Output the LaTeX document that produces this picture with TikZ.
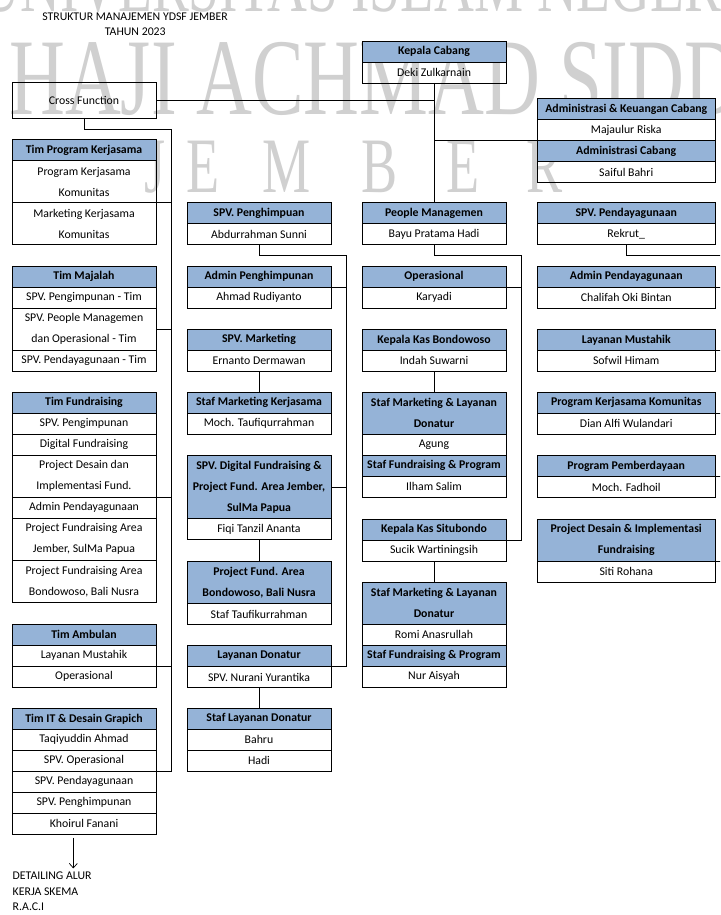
\documentclass[tikz,border=0pt]{standalone}
\usepackage{fontspec}
\setmainfont{Carlito}
\newfontfamily\wmfont{Liberation Serif}
\usetikzlibrary{arrows.meta,calc}
\definecolor{hdrblue}{RGB}{149,179,215}
\definecolor{wmgray}{RGB}{208,208,208}
\begin{document}
\begin{tikzpicture}[x=1pt,y=-1pt,
  cell/.style={draw=black, line width=0.9pt, minimum height=21pt, inner sep=0pt, outer sep=0pt,
    anchor=north west, align=center, font=\fontsize{11.8}{21}\selectfont},
  hd/.style={cell, fill=hdrblue, font=\fontsize{11.8}{21}\selectfont\bfseries},
  two/.style={minimum height=42pt},
  three/.style={minimum height=63pt},
  wa/.style={minimum width=144pt},
  wb/.style={minimum width=178.5pt},
  conn/.style={draw=black, line width=0.9pt},
  txt/.style={inner sep=0pt, font=\fontsize{11.8}{14}\selectfont},
  wm/.style={inner sep=0pt, text=wmgray},
]
\useasboundingbox (0,0) rectangle (720,915);
\fill[white] (0,0) rectangle (720,915);
\clip (0,0) rectangle (720,915);

% watermark
\node[wm, anchor=base, font=\wmfont\fontsize{80}{80}\selectfont] (wm1) at (360,12) {\scalebox{0.69}[1]{UNIVERSITAS ISLAM NEGERI}};
\node[wm, anchor=base west, font=\wmfont\fontsize{109}{109}\selectfont] (wm2) at (9,115) {\scalebox{0.71}[1]{HAJI ACHMAD SIDDIQ}};
\foreach \l/\x [count=\i] in {J/155,E/203,M/287,B/380,E/463,R/545}
  \node[wm, anchor=base, font=\wmfont\fontsize{78.5}{78.5}\selectfont] (wm3\i) at (\x,192) {\scalebox{0.69}[1]{\l}};

% title
\node[txt, anchor=base] (title1) at (135,20.7) {STRUKTUR MANAJEMEN YDSF JEMBER};
\node[txt, anchor=base] (title2) at (135.3,36) {TAHUN 2023};

% ---------- column 1
\node[cell, wa, minimum height=36pt] (cf) at (12,82) {Cross Function};

\node[hd, wa] (tpk0) at (12,139.5) {Tim Program Kerjasama};
\node[cell, wa, two] (tpk1) at (tpk0.south west) {Program Kerjasama\\Komunitas};
\node[cell, wa, two] (tpk2) at (tpk1.south west) {Marketing Kerjasama\\Komunitas};

\node[hd, wa] (tm0) at (12,266) {Tim Majalah};
\node[cell, wa] (tm1) at (tm0.south west) {SPV. Pengimpunan - Tim};
\node[cell, wa, two] (tm2) at (tm1.south west) {SPV. People Managemen\\dan Operasional - Tim};
\node[cell, wa] (tm3) at (tm2.south west) {SPV. Pendayagunaan - Tim};

\node[hd, wa] (tf0) at (12,392.3) {Tim Fundraising};
\node[cell, wa] (tf1) at (tf0.south west) {SPV. Pengimpunan};
\node[cell, wa] (tf2) at (tf1.south west) {Digital Fundraising};
\node[cell, wa, two] (tf3) at (tf2.south west) {Project Desain dan\\Implementasi Fund.};
\node[cell, wa] (tf4) at (tf3.south west) {Admin Pendayagunaan};
\node[cell, wa, two] (tf5) at (tf4.south west) {Project Fundraising Area\\Jember, SulMa Papua};
\node[cell, wa, two] (tf6) at (tf5.south west) {Project Fundraising Area\\Bondowoso, Bali Nusra};

\node[hd, wa] (ta0) at (12,624.3) {Tim Ambulan};
\node[cell, wa] (ta1) at (ta0.south west) {Layanan Mustahik};
\node[cell, wa] (ta2) at (ta1.south west) {Operasional};

\node[hd, wa] (tit0) at (12,708.3) {Tim IT \& Desain Grapich};
\node[cell, wa] (tit1) at (tit0.south west) {Taqiyuddin Ahmad};
\node[cell, wa] (tit2) at (tit1.south west) {SPV. Operasional};
\node[cell, wa] (tit3) at (tit2.south west) {SPV. Pendayagunaan};
\node[cell, wa] (tit4) at (tit3.south west) {SPV. Penghimpunan};
\node[cell, wa] (tit5) at (tit4.south west) {Khoirul Fanani};

% ---------- column 2
\node[hd, wa] (sph0) at (187,202.7) {SPV. Penghimpuan};
\node[cell, wa] (sph1) at (sph0.south west) {Abdurrahman Sunni};

\node[hd, wa] (aph0) at (187,266) {Admin Penghimpunan};
\node[cell, wa] (aph1) at (aph0.south west) {Ahmad Rudiyanto};

\node[hd, wa] (smk0) at (187,329.3) {SPV. Marketing};
\node[cell, wa] (smk1) at (smk0.south west) {Ernanto Dermawan};

\node[hd, wa] (smkk0) at (187,392.3) {Staf Marketing Kerjasama};
\node[cell, wa] (smkk1) at (smkk0.south west) {Moch. Taufiqurrahman};

\node[hd, wa, three] (sdf0) at (187,455.5) {SPV. Digital Fundraising \&\\Project Fund. Area Jember,\\SulMa Papua};
\node[cell, wa] (sdf1) at (sdf0.south west) {Fiqi Tanzil Ananta};

\node[hd, wa, two] (pfb0) at (187,561.5) {Project Fund. Area\\Bondowoso, Bali Nusra};
\node[cell, wa] (pfb1) at (pfb0.south west) {Staf Taufikurrahman};

\node[hd, wa] (ld0) at (187,645.5) {Layanan Donatur};
\node[cell, wa] (ld1) at (ld0.south west) {SPV. Nurani Yurantika};

\node[hd, wa] (sld0) at (187,708.3) {Staf Layanan Donatur};
\node[cell, wa] (sld1) at (sld0.south west) {Bahru};
\node[cell, wa] (sld2) at (sld1.south west) {Hadi};

% ---------- column 3
\node[hd, wa] (kc0) at (362,41) {Kepala Cabang};
\node[cell, wa] (kc1) at (kc0.south west) {Deki Zulkarnain};

\node[hd, wa] (pm0) at (362,202.7) {People Managemen};
\node[cell, wa] (pm1) at (pm0.south west) {Bayu Pratama Hadi};

\node[hd, wa] (op0) at (362,266) {Operasional};
\node[cell, wa] (op1) at (op0.south west) {Karyadi};

\node[hd, wa] (kkb0) at (362,329.3) {Kepala Kas Bondowoso};
\node[cell, wa] (kkb1) at (kkb0.south west) {Indah Suwarni};

\node[hd, wa, two] (sml0) at (362,392.3) {Staf Marketing \& Layanan\\Donatur};
\node[cell, wa] (sml1) at (sml0.south west) {Agung};
\node[hd, wa] (sml2) at (sml1.south west) {Staf Fundraising \& Program};
\node[cell, wa] (sml3) at (sml2.south west) {Ilham Salim};

\node[hd, wa] (kks0) at (362,519) {Kepala Kas Situbondo};
\node[cell, wa] (kks1) at (kks0.south west) {Sucik Wartiningsih};

\node[hd, wa, two] (smb0) at (362,582.3) {Staf Marketing \& Layanan\\Donatur};
\node[cell, wa] (smb1) at (smb0.south west) {Romi Anasrullah};
\node[hd, wa] (smb2) at (smb1.south west) {Staf Fundraising \& Program};
\node[cell, wa] (smb3) at (smb2.south west) {Nur Aisyah};

% ---------- column 4
\node[hd, wb] (adm0) at (537,98.7) {Administrasi \& Keuangan Cabang};
\node[cell, wb] (adm1) at (adm0.south west) {Majaulur Riska};
\node[hd, wb] (adm2) at (adm1.south west) {Administrasi Cabang};
\node[cell, wb] (adm3) at (adm2.south west) {Saiful Bahri};

\node[hd, wb] (spd0) at (537,202.7) {SPV. Pendayagunaan};
\node[cell, wb] (spd1) at (spd0.south west) {Rekrut\_};

\node[hd, wb] (apd0) at (537,266) {Admin Pendayagunaan};
\node[cell, wb] (apd1) at (apd0.south west) {Chalifah Oki Bintan};

\node[hd, wb] (lm0) at (537,329.3) {Layanan Mustahik};
\node[cell, wb] (lm1) at (lm0.south west) {Sofwil Himam};

\node[hd, wb] (pkk0) at (537,392.3) {Program Kerjasama Komunitas};
\node[cell, wb] (pkk1) at (pkk0.south west) {Dian Alfi Wulandari};

\node[hd, wb] (ppb0) at (537,455.7) {Program Pemberdayaan};
\node[cell, wb] (ppb1) at (ppb0.south west) {Moch. Fadhoil};

\node[hd, wb, two] (pdi0) at (537,519.3) {Project Desain \& Implementasi\\Fundraising};
\node[cell, wb] (pdi1) at (pdi0.south west) {Siti Rohana};

% ---------- connectors
\draw[conn] (kc1.south) -- (pm0.north);
\draw[conn] (cf.east) -- (cf.east -| kc1.south);
\draw[conn] (adm1.south west -| kc1.south) -- (adm1.south west);

\coordinate (sp1) at (171.7,129);
\draw[conn] (cf.south) |- (sp1) -- (sp1 |- tit2.south) -- (tit2.south east);
\draw[conn] (tpk1.south east) -- (tpk1.south east -| sp1);
\draw[conn] (tm2.east) -- (tm2.east -| sp1);
\draw[conn] (tf3.south east) -- (tf3.south east -| sp1);
\draw[conn] (ta1.south east) -- (ta1.south east -| sp1);

\coordinate (sp2) at (346.7,255.7);
\draw[conn] (sph1.south) |- (sp2) -- (sp2 |- ld0.south) -- (ld0.south east);
\draw[conn] (aph0.south east) -- (aph0.south east -| sp2);
\draw[conn] (sdf0.east) -- (sdf0.east -| sp2);
\draw[conn] (smk1.south) -- (smkk0.north);
\draw[conn] (sdf1.south) -- (pfb0.north);
\draw[conn] (ld1.south) -- (sld0.north);

\coordinate (sp3) at (521.7,255.7);
\draw[conn] (pm1.south) |- (sp3) -- (sp3 |- kks0.south) -- (kks0.south east);
\draw[conn] (op0.south east) -- (op0.south east -| sp3);
\draw[conn] (kkb1.south) -- (sml0.north);
\draw[conn] (kks1.south) -- (smb0.north);

\coordinate (sp4) at (726,255.7);
\draw[conn] (spd1.south) |- (sp4);
\draw[conn] (apd0.south east) -- (apd0.south east -| sp4);
\draw[conn] (lm0.south east) -- (lm0.south east -| sp4);
\draw[conn] (pkk0.south east) -- (pkk0.south east -| sp4);
\draw[conn] (ppb0.south east) -- (ppb0.south east -| sp4);
\draw[conn] (pdi0.south east) -- (pdi0.south east -| sp4);

% detailing
\node[txt, anchor=base west] (dt1) at (12.5,879.3) {DETAILING ALUR};
\node[txt, anchor=base west] (dt2) at (12.5,895) {KERJA SKEMA};
\node[txt, anchor=base west] (dt3) at (12.5,910.7) {R.A.C.I};
\coordinate (ar1) at ($(tit5.south)+(-10.7,3.5)$);
\coordinate (ar2) at (ar1 |- dt1.north);
\draw[line width=0.7pt, -{Straight Barb[length=4.5pt,width=8pt]}] (ar1) -- ($(ar2)+(0,-3)$);
\end{tikzpicture}
\end{document}
